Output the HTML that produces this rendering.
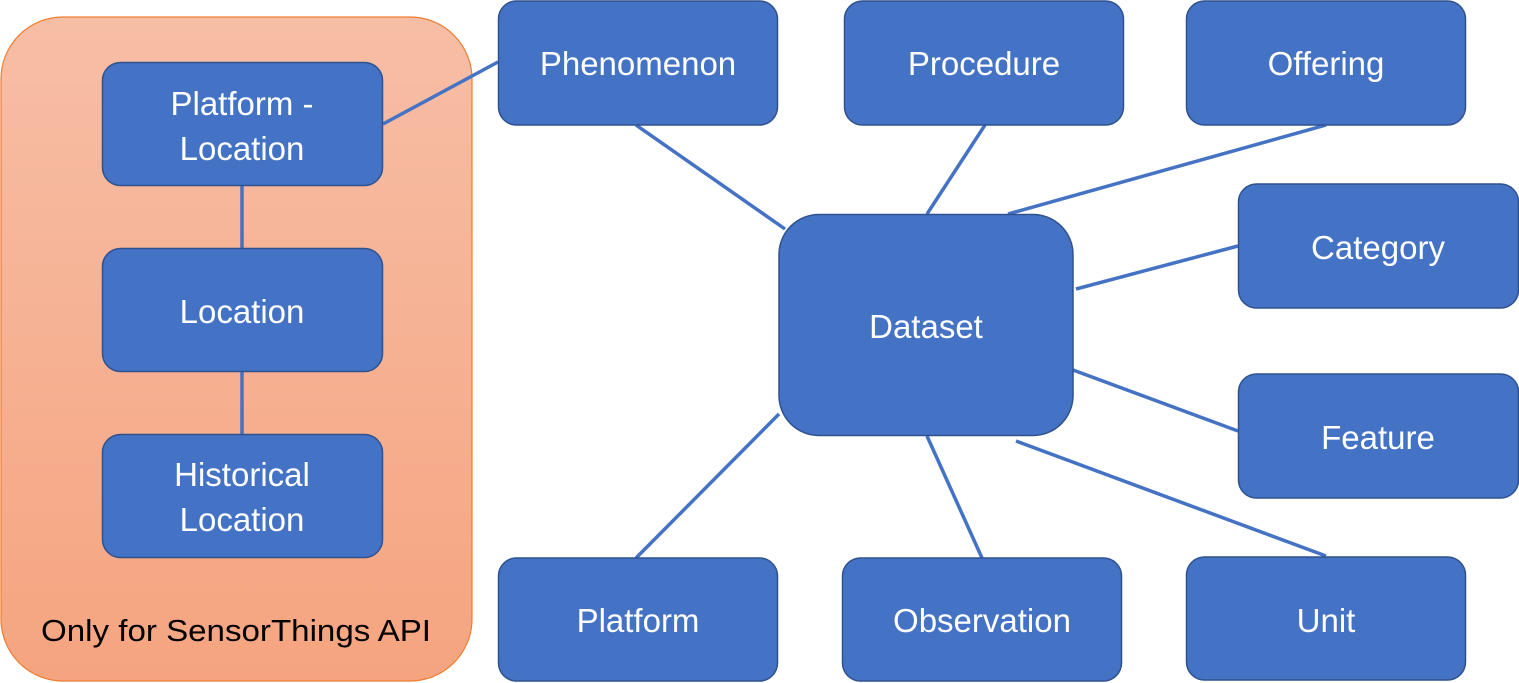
<!DOCTYPE html>
<html><head><meta charset="utf-8"><style>
html,body{margin:0;padding:0;background:#fff;}
svg{display:block;}
text{font-family:"Liberation Sans",sans-serif;}
</style></head><body>
<svg width="1519" height="683" viewBox="0 0 1519 683" xmlns="http://www.w3.org/2000/svg">
<defs>
<linearGradient id="og" x1="0" y1="0" x2="0" y2="1">
<stop offset="0" stop-color="#f7bea6"/>
<stop offset="1" stop-color="#f5a47f"/>
</linearGradient>
</defs>
<rect x="1" y="17" width="471" height="664" rx="62" fill="url(#og)" stroke="#ed7d31" stroke-width="1.2"/>
<g stroke="#4472c4" stroke-width="3.5" fill="none">
<line x1="383" y1="124" x2="498" y2="62"/>
<line x1="242" y1="186" x2="242" y2="248"/>
<line x1="242" y1="372" x2="242" y2="434"/>
<line x1="636" y1="125" x2="785" y2="229"/>
<line x1="985" y1="125" x2="927" y2="214"/>
<line x1="1326" y1="125" x2="1008" y2="214"/>
<line x1="1076" y1="289" x2="1238" y2="246"/>
<line x1="1073" y1="370" x2="1238" y2="431"/>
<line x1="1016" y1="441" x2="1326" y2="556"/>
<line x1="927" y1="436" x2="982" y2="558"/>
<line x1="779" y1="414" x2="636" y2="558"/>
</g>
<g fill="#4472c4" stroke="#2f528f" stroke-width="1.5">
<rect x="102.5" y="62.5" width="280" height="123" rx="18"/>
<rect x="102.5" y="248.5" width="280" height="123" rx="18"/>
<rect x="102.5" y="434.5" width="280" height="123" rx="18"/>
<rect x="498.5" y="1" width="279" height="124" rx="18"/>
<rect x="844.5" y="1" width="279" height="124" rx="18"/>
<rect x="1186.5" y="1" width="279" height="124" rx="18"/>
<rect x="1238.5" y="184" width="280" height="124" rx="18"/>
<rect x="1238.5" y="374" width="280" height="124" rx="18"/>
<rect x="498.5" y="558" width="279" height="123" rx="18"/>
<rect x="842.5" y="558" width="279" height="123" rx="18"/>
<rect x="1186.5" y="557" width="279" height="123" rx="18"/>
<rect x="779" y="214.5" width="294" height="221" rx="40"/>
</g>
<g fill="#fff" font-size="33" text-anchor="middle">
<text x="242" y="115">Platform -</text>
<text x="242" y="160">Location</text>
<text x="242" y="323">Location</text>
<text x="242" y="486">Historical</text>
<text x="242" y="531">Location</text>
<text x="638" y="75">Phenomenon</text>
<text x="984" y="75">Procedure</text>
<text x="1326" y="75">Offering</text>
<text x="1378" y="259">Category</text>
<text x="1378" y="449">Feature</text>
<text x="638" y="632">Platform</text>
<text x="982" y="632">Observation</text>
<text x="1326" y="632">Unit</text>
<text x="926" y="338">Dataset</text>
</g>
<text x="41" y="641" font-size="31" fill="#000" textLength="390" lengthAdjust="spacingAndGlyphs">Only for SensorThings API</text>
</svg>
</body></html>
